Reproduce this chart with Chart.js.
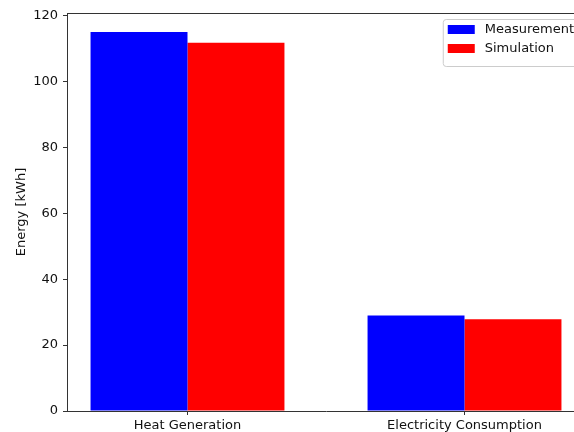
<!DOCTYPE html>
<html>
<head>
<meta charset="utf-8">
<script src="https://cdn.jsdelivr.net/npm/chart.js@4.4.0/dist/chart.umd.min.js"></script>
<style>
    html, body { margin: 0; padding: 0; background: #fff; overflow: hidden; }
    #wrap { position: absolute; left: 0; top: 0; width: 590px; height: 432px; }
</style>
</head>
<body>
<div id="wrap"><canvas id="chart"></canvas></div>
<script>
// Chart data
const categories = ['Heat Generation', 'Electricity Consumption'];
const measurement = [115, 29];
const simulation = [111.7, 27.8];
const yTicks = [0, 20, 40, 60, 80, 100, 120];

const barWidth = 0.35;
const xMargin = (categories.length - 1 + 2 * barWidth) * 0.05;
const yMax = Math.max(...measurement, ...simulation) * 1.05;

const font = { family: 'DejaVu Sans', size: 13 };

// Top/right spines
const framePlugin = {
    id: 'frame',
    afterDraw(chart) {
        const { ctx, chartArea: a } = chart;
        ctx.save();
        ctx.strokeStyle = '#333';
        ctx.lineWidth = 1;
        ctx.beginPath();
        ctx.moveTo(a.left, Math.round(a.top) + 0.5);
        ctx.lineTo(a.right, Math.round(a.top) + 0.5);
        ctx.moveTo(Math.round(a.right) + 0.5, a.top);
        ctx.lineTo(Math.round(a.right) + 0.5, a.bottom);
        ctx.stroke();
        ctx.restore();
    }
};

// Matplotlib-like legend in the upper right corner
const legendPlugin = {
    id: 'mplLegend',
    afterDraw(chart) {
        const { ctx, chartArea: a } = chart;
        const sets = chart.data.datasets;
        ctx.save();
        ctx.font = '13px "DejaVu Sans"';
        const textW = Math.max(...sets.map(d => ctx.measureText(d.label).width));
        const w = 5 + 27 + 10 + textW + 6;
        const h = 6 + sets.length * 19 + 3;
        const x = a.right - 5 - w;
        const y = a.top + 6;
        ctx.fillStyle = 'rgba(255,255,255,0.8)';
        ctx.strokeStyle = '#ccc';
        ctx.lineWidth = 1;
        ctx.beginPath();
        ctx.roundRect(x + 0.5, y + 0.5, w, h, 3);
        ctx.fill();
        ctx.stroke();
        sets.forEach((d, i) => {
            const ry = y + 6 + i * 19;
            ctx.fillStyle = d.backgroundColor;
            ctx.fillRect(x + 5, ry, 27, 9);
            ctx.fillStyle = '#111';
            ctx.textBaseline = 'middle';
            ctx.fillText(d.label, x + 42, ry + 5);
        });
        ctx.restore();
    }
};

new Chart(document.getElementById('chart'), {
    type: 'bar',
    data: {
        datasets: [{
            label: 'Measurement',
            data: measurement.map((v, i) => ({ x: i, y: v })),
            backgroundColor: '#0000ff'
        }, {
            label: 'Simulation',
            data: simulation.map((v, i) => ({ x: i, y: v })),
            backgroundColor: '#ff0000'
        }]
    },
    options: {
        responsive: true,
        maintainAspectRatio: false,
        animation: false,
        layout: { padding: { top: 13, right: 5, left: 0, bottom: 0 } },
        datasets: {
            bar: { barPercentage: 1, categoryPercentage: barWidth * 2, borderWidth: 0 }
        },
        plugins: {
            legend: { display: false },
            tooltip: { enabled: false }
        },
        scales: {
            x: {
                type: 'linear',
                offset: false,
                min: -barWidth - xMargin,
                max: categories.length - 1 + barWidth + xMargin,
                afterBuildTicks: s => { s.ticks = categories.map((c, i) => ({ value: i })); },
                afterFit: s => { s.height = 21; },
                grid: { offset: false, drawOnChartArea: false, drawTicks: true, tickLength: 4, tickColor: '#333' },
                border: { display: true, color: '#333', width: 1 },
                ticks: {
                    font: font,
                    color: '#111',
                    padding: 3,
                    maxRotation: 0,
                    autoSkip: false,
                    callback: v => categories[v]
                }
            },
            y: {
                min: 0,
                max: yMax,
                afterBuildTicks: s => { s.ticks = yTicks.map(v => ({ value: v })); },
                afterFit: s => { s.width = 67; },
                grid: { drawOnChartArea: false, drawTicks: true, tickLength: 4, tickColor: '#333' },
                border: { display: true, color: '#333', width: 1 },
                ticks: { font: font, color: '#111', padding: 5 },
                title: {
                    display: true,
                    text: 'Energy [kWh]',
                    font: font,
                    color: '#111',
                    padding: { top: 14, bottom: 0 }
                }
            }
        }
    },
    plugins: [framePlugin, legendPlugin]
});
</script>
</body>
</html>
